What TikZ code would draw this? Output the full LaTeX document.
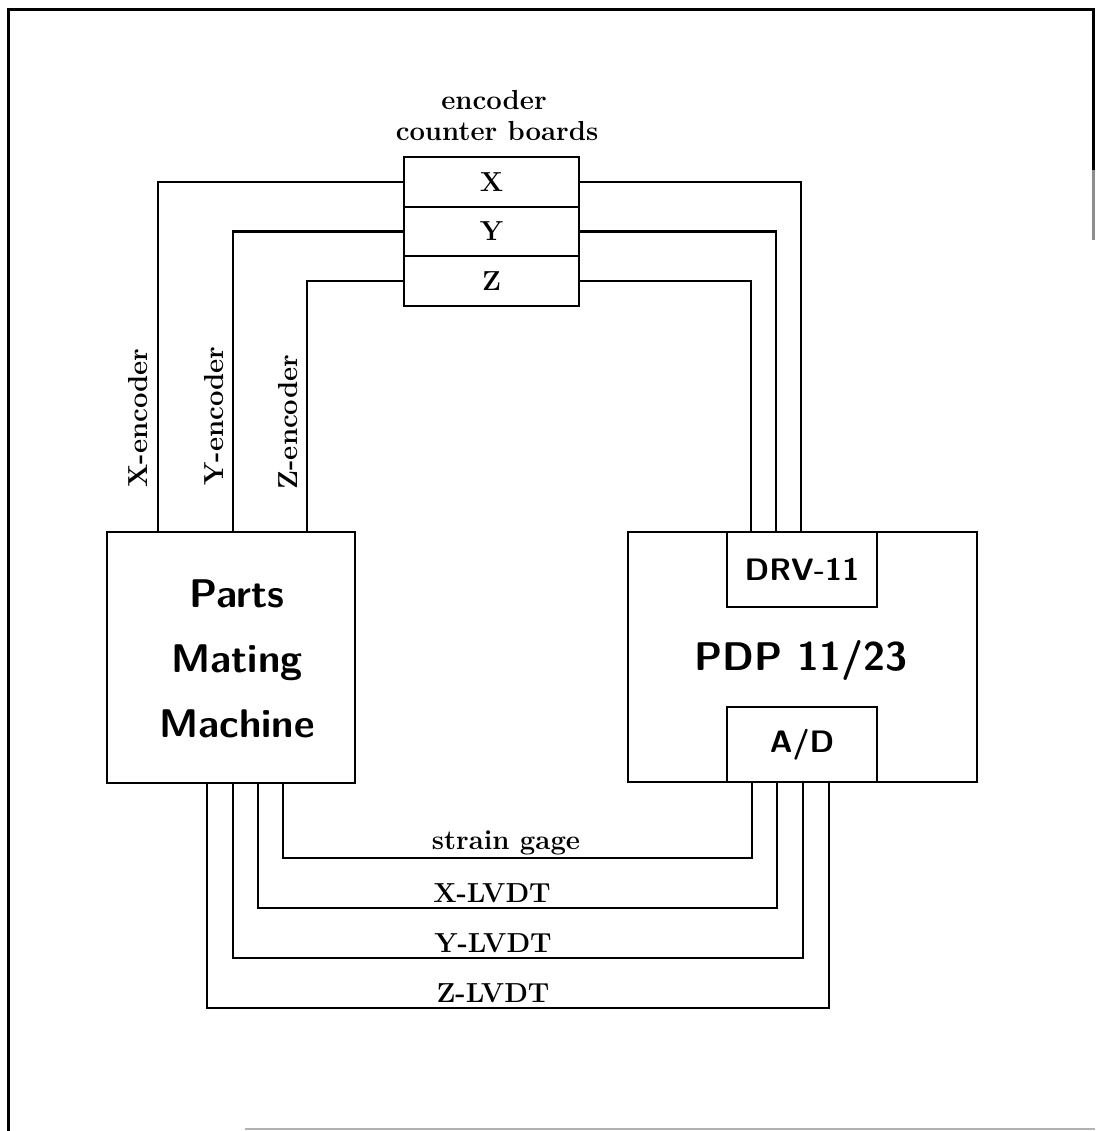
\documentclass[tikz,border=0pt]{standalone}
\usepackage{fontspec}
\begin{document}
\begin{tikzpicture}[x=1pt,y=-1pt,
  wire/.style={line width=2.7pt,line join=miter},
  frame/.style={line width=3pt},
  box/.style={draw,line width=2.8pt,rectangle,inner sep=0pt,minimum width=#1},
  lbl/.style={font=\bfseries\fontsize{27.5}{30}\selectfont\addfontfeature{FakeBold=1.2},inner sep=0pt},
  sslbl/.style={font=\sffamily\bfseries\fontsize{31}{34}\selectfont\addfontfeature{FakeBold=1},inner sep=0pt},
  bigsf/.style={font=\sffamily\bfseries\fontsize{40}{65}\selectfont\addfontfeature{FakeBold=1},inner sep=0pt}]
\useasboundingbox (0,0) rectangle (1095,1131);
% frame
\draw[frame] (8,1131) -- (8,10) -- (1093,10) -- (1093,170);
\draw[frame,black!45] (1093,170) -- (1093,240);
\draw[line width=2pt,black!30] (245,1129) -- (1095,1129);
% encoder counter boards
\node[box=175pt,minimum height=50pt] (bx) at (491.5,182) {};
\node[box=175pt,minimum height=49pt] (by) at (491.5,231.5) {};
\node[box=175pt,minimum height=50pt] (bz) at (491.5,281) {};
\node[lbl] (tx) at (bx.center) {X};
\node[lbl] (ty) at (by.center) {Y};
\node[lbl] (tz) at (bz.center) {Z};
\node[lbl,anchor=base] (t1) at (494,110) {encoder};
\node[lbl,anchor=base] (t2) at (497,141) {counter boards};
% main boxes
\node[box=248pt,minimum height=251pt] (pmm) at (231,657.5) {};
\node[bigsf,align=center] (pmmt) at (237,659) {Parts\\Mating\\Machine};
\node[box=349pt,minimum height=250pt] (pdp) at (802.5,657) {};
\node[box=150pt,minimum height=75pt,fill=white] (drv) at (802,569.5) {};
\node[box=150pt,minimum height=75pt,fill=white] (ad) at (802,744.5) {};
\node[sslbl] (drvt) at (drv.center) {DRV-11};
\node[sslbl] (adt) at (ad.center) {A/D};
\node[bigsf] (pdpt) at (801,660) {PDP 11/23};
% column coordinates
\coordinate (xl) at (158,0);
\coordinate (yl) at (233,0);
\coordinate (zl) at (307,0);
\coordinate (xr) at (801,0);
\coordinate (yr) at (776,0);
\coordinate (zr) at (751,0);
% encoder wires
\draw[wire] (bx.west) -| (xl |- pmm.north);
\draw[wire] (by.west) -| (yl |- pmm.north);
\draw[wire] (bz.west) -| (zl |- pmm.north);
\draw[wire] (bx.east) -| (xr |- drv.north);
\draw[wire] (by.east) -| (yr |- drv.north);
\draw[wire] (bz.east) -| (zr |- drv.north);
% encoder labels
\node[lbl,rotate=90,anchor=base] (lx) at (147,418) {X-encoder};
\node[lbl,rotate=90,anchor=base] (ly) at (223,416) {Y-encoder};
\node[lbl,rotate=90,anchor=base] (lz) at (297,422) {Z-encoder};
% bottom wires
\coordinate (s1) at (283,858);
\coordinate (s2) at (752,858);
\coordinate (x1) at (258,908);
\coordinate (x2) at (777,908);
\coordinate (y1) at (233,958);
\coordinate (y2) at (803,958);
\coordinate (z1) at (207,1008);
\coordinate (z2) at (829,1008);
\draw[wire] (s1 |- pmm.south) -- (s1) -- (s2) -- (s2 |- ad.south);
\draw[wire] (x1 |- pmm.south) -- (x1) -- (x2) -- (x2 |- ad.south);
\draw[wire] (y1 |- pmm.south) -- (y1) -- (y2) -- (y2 |- ad.south);
\draw[wire] (z1 |- pmm.south) -- (z1) -- (z2) -- (z2 |- ad.south);
\node[lbl,anchor=base] (ls) at (506,849) {strain gage};
\node[lbl,anchor=base] (lxl) at (492,902) {X-LVDT};
\node[lbl,anchor=base] (lyl) at (493,952) {Y-LVDT};
\node[lbl,anchor=base] (lzl) at (493,1002) {Z-LVDT};
\end{tikzpicture}
\end{document}
